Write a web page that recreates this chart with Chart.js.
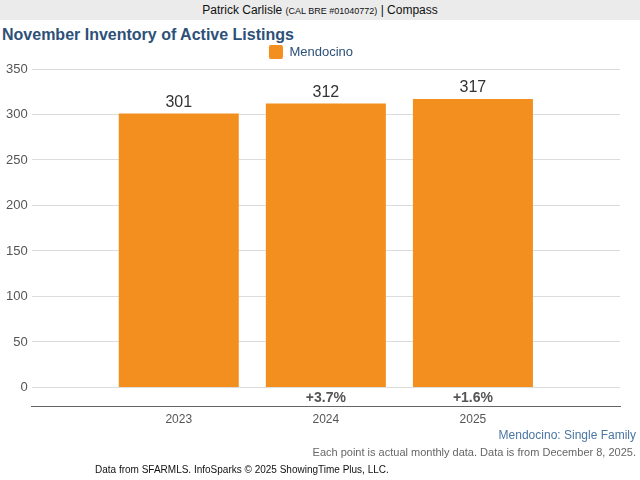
<!DOCTYPE html>
<html>
<head>
<meta charset="utf-8">
<script src="https://cdn.jsdelivr.net/npm/chart.js@4"></script>
<style>
  body { margin: 0; width: 640px; height: 480px; background: #fff; font-family: "Liberation Sans", Arial, sans-serif; position: relative; overflow: hidden; }
  #hdr { position: absolute; left: 0; top: 0; width: 640px; height: 20px; background: #ebebeb; text-align: center; font-size: 12px; line-height: 21px; color: #111; }
  #hdr small { font-size: 9px; }
  #title { position: absolute; left: 2px; top: 26px; font-size: 16px; font-weight: bold; color: #2d5078; }
  #wrap { position: absolute; left: 0; top: 39px; width: 640px; height: 394px; }
  .foot { position: absolute; white-space: nowrap; }
  #f1 { right: 4px; top: 428px; font-size: 12px; color: #4a76a3; }
  #f2 { right: 4px; top: 446px; font-size: 11px; color: #666; }
  #f3 { left: 95px; top: 464px; font-size: 10px; color: #111; }
</style>
</head>
<body>
<div id="hdr">Patrick Carlisle <small>(CAL BRE #01040772)</small> | Compass</div>
<div id="title">November Inventory of Active Listings</div>
<div id="wrap"><canvas id="chartCanvas"></canvas></div>
<div class="foot" id="f1">Mendocino: Single Family</div>
<div class="foot" id="f2">Each point is actual monthly data. Data is from December 8, 2025.</div>
<div class="foot" id="f3">Data from SFARMLS. InfoSparks © 2025 ShowingTime Plus, LLC.</div>
<script>
let years = ['2023', '2024', '2025'];
let inventory = [301, 312, 317];
let changes = ['', '+3.7%', '+1.6%'];
let yTicks = [0, 50, 100, 150, 200, 250, 300, 350];

// empty slot on each side, like the original axis
let labels = [''].concat(years, ['']);
let values = [null].concat(inventory, [null]);
let changeLabels = [''].concat(changes, ['']);

const barLabels = {
  id: 'barLabels',
  afterDatasetsDraw(chart) {
    const ctx = chart.ctx;
    const meta = chart.getDatasetMeta(0);
    const y = chart.scales.y;
    ctx.save();
    ctx.textAlign = 'center';
    meta.data.forEach((bar, i) => {
      if (values[i] == null) return;
      ctx.fillStyle = '#333';
      ctx.font = '16px "Liberation Sans", Arial, sans-serif';
      ctx.textBaseline = 'bottom';
      ctx.fillText(values[i], bar.x, bar.y - 3);
      if (changeLabels[i]) {
        ctx.fillStyle = '#555';
        ctx.font = 'bold 14px "Liberation Sans", Arial, sans-serif';
        ctx.textBaseline = 'middle';
        ctx.fillText(changeLabels[i], bar.x, (y.getPixelForValue(0) + chart.chartArea.bottom) / 2 + 1);
      }
    });
    ctx.restore();
  }
};

let chart = new Chart(document.getElementById('chartCanvas'), {
  type: 'bar',
  data: {
    labels: labels,
    datasets: [{
      label: 'Mendocino',
      data: values,
      backgroundColor: '#f28f1f',
      borderWidth: 0,
      barPercentage: 0.816,
      categoryPercentage: 1
    }]
  },
  options: {
    responsive: true,
    maintainAspectRatio: false,
    animation: false,
    layout: { padding: { left: 2, right: 20, top: 0, bottom: 0 } },
    plugins: {
      legend: {
        labels: {
          boxWidth: 14, boxHeight: 14, useBorderRadius: true, borderRadius: 2,
          color: '#2d5078', font: { size: 13, family: '"Liberation Sans", Arial, sans-serif' },
          padding: 6
        }
      },
      tooltip: { enabled: false }
    },
    scales: {
      x: {
        offset: false,
        grid: { display: false, drawTicks: false },
        border: { display: true, color: '#666', width: 1 },
        ticks: { color: '#555', font: { size: 12, family: '"Liberation Sans", Arial, sans-serif' }, padding: 6, autoSkip: false, maxRotation: 0 }
      },
      y: {
        min: -21,
        max: 350,
        afterBuildTicks: (scale) => { scale.ticks = yTicks.map(v => ({ value: v })); },
        grid: { color: '#dcdcdc', drawTicks: false },
        border: { display: false },
        ticks: { color: '#555', font: { size: 13, family: '"Liberation Sans", Arial, sans-serif' }, padding: 4 }
      }
    }
  },
  plugins: [barLabels]
});
</script>
</body>
</html>
